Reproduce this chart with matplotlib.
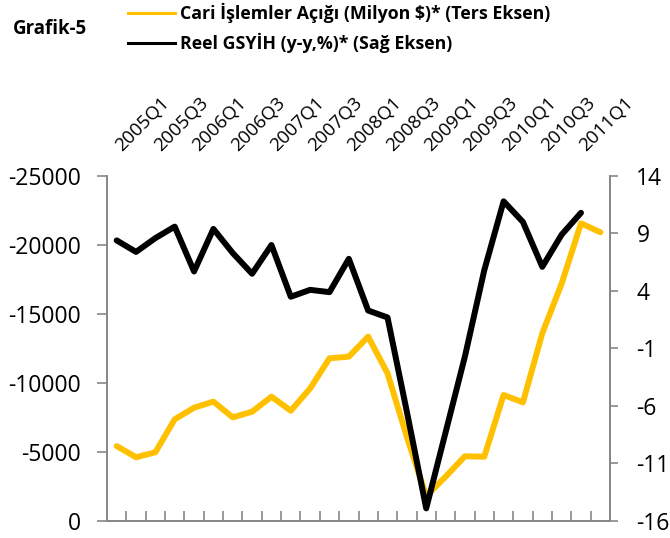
import matplotlib
matplotlib.use("Agg")
import matplotlib.pyplot as plt
from matplotlib.lines import Line2D

plt.rcParams['font.family'] = ['Open Sans', 'DejaVu Sans']
plt.rcParams['axes.unicode_minus'] = False

quarters = ['2005Q1', '2005Q2', '2005Q3', '2005Q4', '2006Q1', '2006Q2', '2006Q3', '2006Q4',
            '2007Q1', '2007Q2', '2007Q3', '2007Q4', '2008Q1', '2008Q2', '2008Q3', '2008Q4',
            '2009Q1', '2009Q2', '2009Q3', '2009Q4', '2010Q1', '2010Q2', '2010Q3', '2010Q4',
            '2011Q1', '2011Q2']

# cari islemler acigi, milyon $ (12 aylik)
cari = [-5430, -4620, -4980, -7370, -8210, -8650, -7510, -7920, -9010, -7990,
        -9610, -11790, -11910, -13360, -10700, -6100, -1800, -3210, -4690, -4660,
        -9130, -8600, -13600, -17200, -21570, -20920]

# reel gsyih, y-y %
gsyih = [8.4, 7.4, 8.6, 9.6, 5.7, 9.4, 7.3, 5.5, 8.0, 3.5, 4.1, 3.9, 6.8,
         2.3, 1.7, -6.5, -14.9, -8.3, -1.7, 5.8, 11.8, 10.0, 6.1, 8.9, 10.8]

left_ticks = [0, -5000, -10000, -15000, -20000, -25000]
right_ticks = [-16, -11, -6, -1, 4, 9, 14]

grey = '#878787'
orange = '#FFC000'

fig = plt.figure(figsize=(6.7, 5.38), dpi=100)
ax = fig.add_axes([107/670, 17/538, 503/670, 345/538])
ax2 = ax.twinx()

x1 = list(range(len(cari)))
x2 = list(range(len(gsyih)))
ax.plot(x1, cari, color=orange, lw=4.3, solid_joinstyle='round', solid_capstyle='round')
ax2.plot(x2, gsyih, color='black', lw=4.3, solid_joinstyle='round', solid_capstyle='round')

ax.set_xlim(-0.5, len(quarters) - 0.5)
ax.set_ylim(0, -25000)
ax.set_yticks(left_ticks)
ax.set_yticklabels([str(v) for v in left_ticks])
ax2.set_ylim(-16, 14)
ax2.set_yticks(right_ticks)
ax2.set_yticklabels([str(v) for v in right_ticks])

# tick marks between categories
ax.set_xticks([i + 0.5 for i in range(len(quarters) - 1)])
ax.set_xticklabels([])
ax.tick_params(axis='x', direction='in', length=7, width=1.2, color=grey)
ax.tick_params(axis='y', direction='out', length=7, width=1.2, color=grey,
               labelsize=16.5, pad=12)
ax2.tick_params(axis='y', direction='out', length=6, width=1.2, color=grey,
                labelsize=16.5, pad=13)

for a in (ax, ax2):
    a.spines['top'].set_visible(False)
    for s in ('left', 'right', 'bottom'):
        a.spines[s].set_color(grey)
        a.spines[s].set_linewidth(1.3)

# category labels on top, every second quarter
trans = ax.get_xaxis_transform()
for i, q in enumerate(quarters):
    if i % 2 == 0:
        ax.text(i + 0.27, 1.07, q, transform=trans, rotation=45, rotation_mode='anchor',
                ha='left', va='baseline', fontsize=13.5)

# title and legend
fig.text(13/670, 1 - 29/538, 'Grafik-5', fontsize=13.4, fontweight='bold', va='center')
fig.add_artist(Line2D([128/670, 175/670], [1 - 13/538, 1 - 13/538], color=orange, lw=2.2))
fig.add_artist(Line2D([128/670, 175/670], [1 - 43/538, 1 - 43/538], color='black', lw=2.2))
fig.text(180/670, 1 - 13/538, 'Cari İşlemler Açığı (Milyon $)* (Ters Eksen)', fontsize=12.8,
         fontweight='bold', va='center')
fig.text(180/670, 1 - 43/538, 'Reel GSYİH (y-y,%)* (Sağ Eksen)', fontsize=12.8,
         fontweight='bold', va='center')

fig.savefig('out.png', dpi=100)
